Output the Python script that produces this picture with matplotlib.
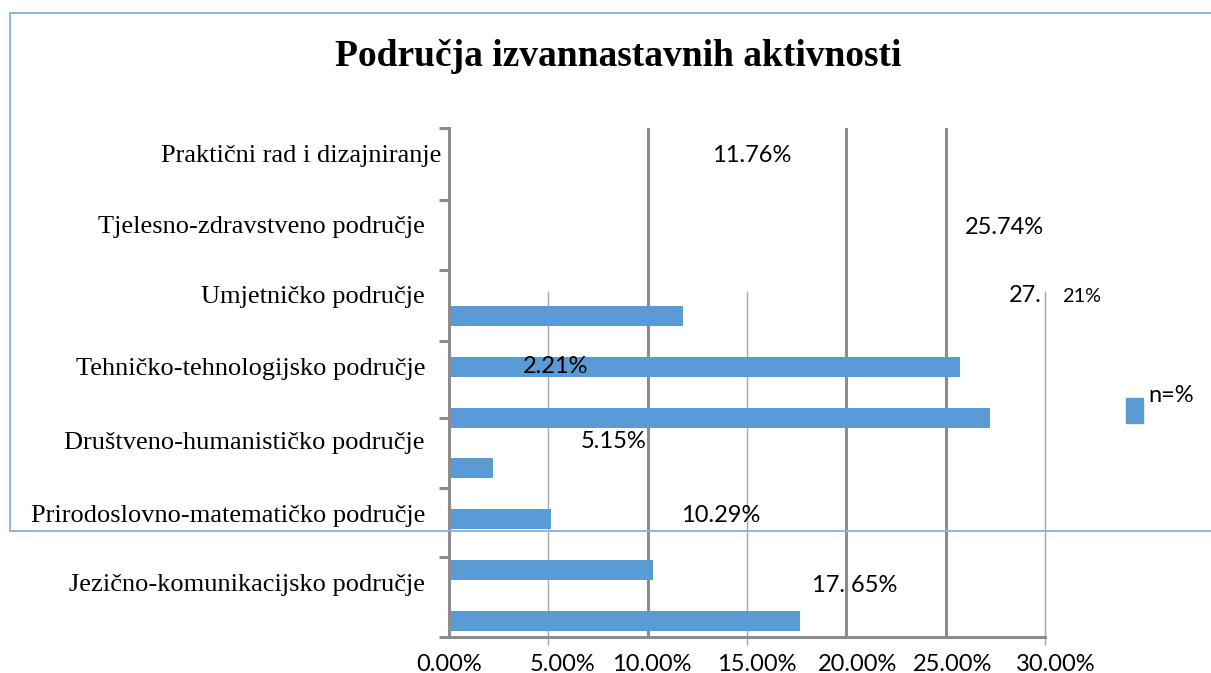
import matplotlib
matplotlib.use("Agg")
import matplotlib.pyplot as plt
from matplotlib.lines import Line2D
from matplotlib.patches import Rectangle
from matplotlib.transforms import ScaledTranslation

# ---------------- data ----------------
categories = [
    "Praktični rad i dizajniranje",
    "Tjelesno-zdravstveno područje",
    "Umjetničko područje",
    "Tehničko-tehnologijsko područje",
    "Društveno-humanističko područje",
    "Prirodoslovno-matematičko područje",
    "Jezično-komunikacijsko područje",
]
values = [11.76, 25.74, 27.21, 2.21, 5.15, 10.29, 17.65]
value_labels = ["11.76%", "25.74%", "27.", "2.21%", "5.15%", "10.29%", "17. 65%"]
xticks = [0, 5, 10, 15, 20, 25, 30]
xtick_labels = ["0.00%", "5.00%", "10.00%", "15.00%", "20.00%", "25.00%", "30.00%"]
title = "Područja izvannastavnih aktivnosti"
legend_label = "n=%"

# ---------------- layout (pixels) ----------------
W, H = 1211, 673
DPI = 100
BAR_COLOR = "#5B9BD5"
BORDER = "#8DB4E2"
THICK = "#8C8C8C"
THIN = "#A6A6A6"
NUM_FONT = "Lato"
NUM_SIZE = 17

fig = plt.figure(figsize=(W / DPI, H / DPI), dpi=DPI)

def fx(x):
    return x / W

def fy(y):
    return 1 - y / H

ax_left, ax_right, ax_top, ax_bottom = 449, 1045, 128, 637
ax = fig.add_axes([fx(ax_left), fy(ax_bottom), fx(ax_right) - fx(ax_left), fy(ax_top) - fy(ax_bottom)])

bar0_px, bar_step = 316, 50.83

def ydata(py):
    return (py - bar0_px) / bar_step

ax.set_xlim(0, 30)
ax.set_ylim(ydata(ax_bottom), ydata(ax_top))

ypos = list(range(len(values)))
ax.barh(ypos, values, height=20 / bar_step, color=BAR_COLOR, zorder=2, edgecolor="none")

# spines
for s in ("top", "right"):
    ax.spines[s].set_visible(False)
for s in ("left", "bottom"):
    ax.spines[s].set_color(THICK)
    ax.spines[s].set_linewidth(2.2)
    ax.spines[s].set_zorder(3)

# y ticks (category separators)
sep_px = [128, 200, 270, 341, 418, 488, 557, 637]
ax.set_yticks([ydata(p) for p in sep_px])
ax.set_yticklabels([])
ax.tick_params(axis="y", length=7, width=2.2, color=THICK)

# x ticks
ax.set_xticks(xticks)
ax.set_xticklabels(xtick_labels, fontsize=NUM_SIZE, family=NUM_FONT)
ax.tick_params(axis="x", length=0, pad=12)
label_shift_px = [0, 14, 4, 10, 11, 7, 11]
for lab, dx in zip(ax.get_xticklabels(), label_shift_px):
    lab.set_transform(lab.get_transform() + ScaledTranslation(dx / DPI, 0, fig.dpi_scale_trans))

# gridlines: thick full-height, thin partial
for v in (10, 20, 25):
    ax.axvline(v, color=THICK, lw=2.2, zorder=1)
for v in (5, 15, 30):
    ax.vlines(v, ydata(291), ydata(645), color=THIN, lw=1.0, zorder=1, clip_on=False)

# category labels
cat_px = [(441, 156), (425, 227), (425, 297), (425, 369), (425, 443), (425, 516), (425, 585)]
for name, (px, py) in zip(categories, cat_px):
    fig.text(fx(px), fy(py), name, ha="right", va="center",
             family="Liberation Serif", fontsize=19)

# value labels
val_px = [(752, 156), (1004, 227), (1042, 296), (556, 367), (614, 442), (721, 515), (855, 585)]
for lab, (px, py) in zip(value_labels, val_px):
    ha = "right" if lab == "27." else "center"
    fig.text(fx(px), fy(py), lab, ha=ha, va="center", family=NUM_FONT, fontsize=NUM_SIZE)
fig.text(fx(1062), fy(296), "21%", ha="left", va="center", family=NUM_FONT, fontsize=14.3)

# title
fig.text(fx(618), fy(56), title, ha="center", va="center",
         family="Liberation Serif", fontweight="bold", fontsize=27)

# legend
fig.patches.append(Rectangle((fx(1126), fy(423)), fx(1143) - fx(1126), fy(398) - fy(423),
                             transform=fig.transFigure, color=BAR_COLOR))
fig.text(fx(1148), fy(395), legend_label, ha="left", va="center", family=NUM_FONT, fontsize=NUM_SIZE)

# blue border pieces
for xs, ys in (([10, W], [13, 13]), ([10, 10], [13, 531]), ([10, W], [531, 531])):
    fig.add_artist(Line2D([fx(x) for x in xs], [fy(y) for y in ys],
                          transform=fig.transFigure, color=BORDER, lw=1.4, zorder=0.5))

fig.savefig("out.png", dpi=DPI)
